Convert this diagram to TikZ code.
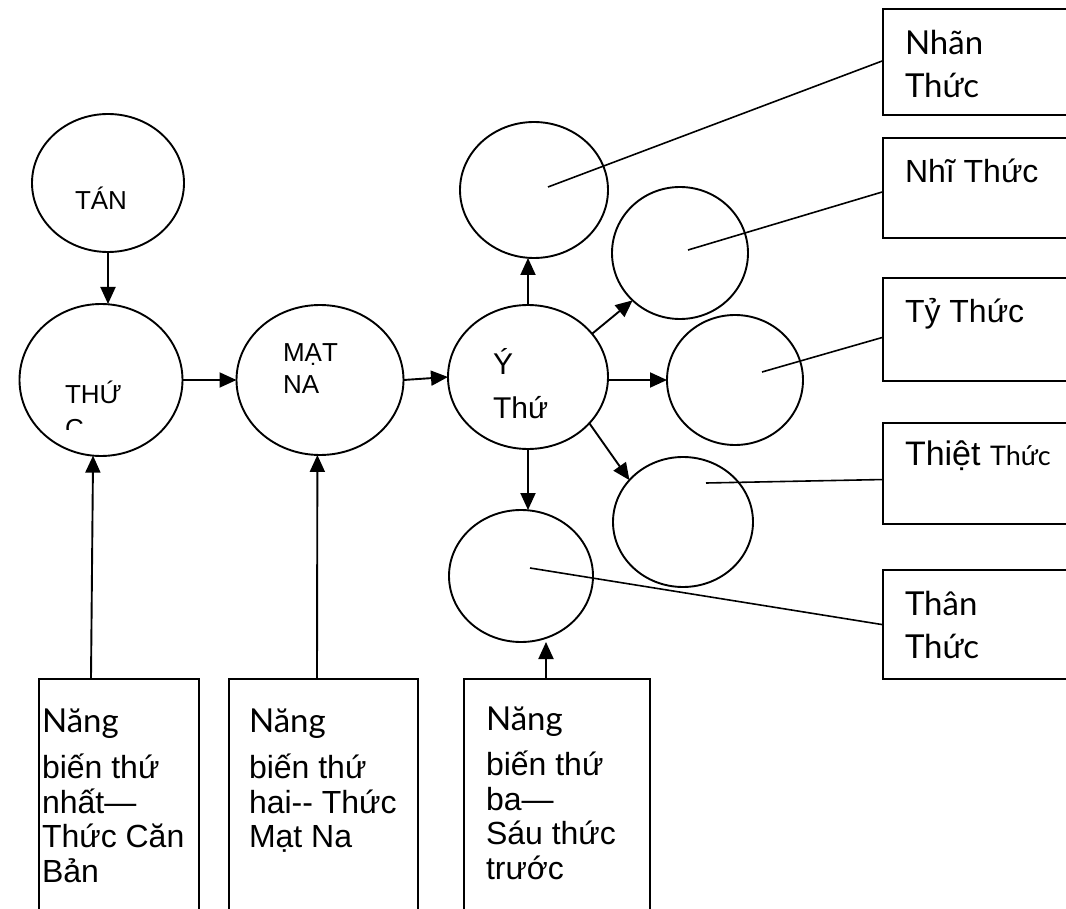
\documentclass[tikz,border=0pt]{standalone}
\usepackage{fontspec}
\setmainfont{Liberation Sans}
\newfontfamily\latofont{Lato}
\usetikzlibrary{shapes.geometric,arrows.meta}
\newcommand\pxsize[1]{\fontsize{#1}{#1}\selectfont}

\begin{document}
\begin{tikzpicture}[x=1pt,y=-1pt,
  oval/.style={draw, ellipse, line width=1.9pt, inner sep=0pt, outer sep=0pt},
  boxshape/.style={draw, line width=2.1pt, anchor=north west, inner sep=0pt},
  arr/.style={line width=1.9pt, -{Triangle[length=17pt,width=15pt]}},
  link/.style={line width=1.6pt},
  lbl/.style={anchor=base west, inner sep=0pt, outer sep=0pt},
  small/.style={font=\pxsize{26}},
  mid/.style={font=\pxsize{30}},
  big/.style={font=\pxsize{32}},
  soft/.style={font=\latofont\pxsize{33}},
]
\useasboundingbox (0,0) rectangle (1066,909);
\clip (0,0) rectangle (1066,909);

% ---- ovals of the main chain ----
\node[oval, minimum width=152pt, minimum height=138pt] (tan) at (108,183) {};
\node[oval, minimum width=163pt, minimum height=152pt] (thu) at (101,380) {};
\node[oval, minimum width=167pt, minimum height=150pt] (mat) at (320,380) {};
\node[oval, minimum width=160pt, minimum height=144pt] (y)   at (528,377) {};

% ---- the six consciousnesses ----
\node[oval, minimum width=148pt, minimum height=136pt] (c1) at (534,190) {};
\node[oval, minimum width=136pt, minimum height=132pt] (c2) at (680,253) {};
\node[oval, minimum width=136pt, minimum height=130pt] (c3) at (735,380) {};
\node[oval, minimum width=140pt, minimum height=130pt] (c4) at (683,522) {};
\node[oval, minimum width=144pt, minimum height=132pt] (c5) at (521,576) {};

% ---- labels inside the ovals ----
\node[lbl, small] (tantxt) at (75,210) {TÁN};
\node[lbl, small] (thutxt) at (65,403) {THỨ};
\begin{scope}
  \clip (55,412) rectangle (140,429);
  \node[lbl, small] (thutxtb) at (65,437) {C};
\end{scope}
\node[lbl, small] (mattxta) at (283,362) {MẠT};
\node[lbl, small] (mattxtb) at (283,393) {NA};
\node[lbl, mid] (ytxta) at (493,374) {Ý};
\begin{scope}
  \clip (480,385) rectangle (549,430);
  \node[lbl, mid] (ytxtb) at (493,418) {Thứ};
\end{scope}

% ---- boxes on the right ----
\node[boxshape, minimum width=200pt, minimum height=106pt] (bx1) at (882,8) {};
\node[boxshape, minimum width=200pt, minimum height=100pt] (bx2) at (882,137) {};
\node[boxshape, minimum width=200pt, minimum height=103pt] (bx3) at (882,277) {};
\node[boxshape, minimum width=200pt, minimum height=101pt] (bx4) at (882,422) {};
\node[boxshape, minimum width=200pt, minimum height=109pt] (bx5) at (882,569) {};

\node[lbl, soft] (bx1a) at (905,55) {Nhãn};
\node[lbl, soft] (bx1b) at (905,98) {Thức};
\node[lbl, big] (bx2a) at (905,183) {Nhĩ Thức};
\node[lbl, big] (bx3a) at (905,323) {Tỷ Thức};
\node[lbl, font=\pxsize{34}] (bx4a) at (905,465) {Thiệt {\latofont\pxsize{27}Thức}};
\node[lbl, soft] (bx5a) at (905,615) {Thân};
\node[lbl, soft] (bx5b) at (905,658) {Thức};

% ---- boxes at the bottom ----
\node[boxshape, minimum width=160pt, minimum height=260pt] (bb1) at (38,678) {};
\node[boxshape, minimum width=189pt, minimum height=260pt] (bb2) at (228,678) {};
\node[boxshape, minimum width=186pt, minimum height=260pt] (bb3) at (463,678) {};

\node[lbl, soft] (bb1a) at (42,732) {Năng};
\node[lbl, big] (bb1b) at (42,778) {biến thứ};
\node[lbl, big] (bb1c) at (42,813) {nhất—};
\node[lbl, big] (bb1d) at (42,847) {Thức Căn};
\node[lbl, big] (bb1e) at (42,882) {Bản};

\node[lbl, soft] (bb2a) at (249,732) {Năng};
\node[lbl, big] (bb2b) at (249,778) {biến thứ};
\node[lbl, big] (bb2c) at (249,813) {hai-{}- Thức};
\node[lbl, big] (bb2d) at (249,847) {Mạt Na};

\node[lbl, soft] (bb3a) at (486,730) {Năng};
\node[lbl, big] (bb3b) at (486,775) {biến thứ};
\node[lbl, big] (bb3c) at (486,810) {ba—};
\node[lbl, big] (bb3d) at (486,844) {Sáu thức};
\node[lbl, big] (bb3e) at (486,879) {trước};

% ---- arrows ----
\draw[arr] (tan.south) -- (tan.south |- thu.north);
\draw[arr] (thu.east) -- (mat.west);
\draw[arr] (mat.east) -- (y.west);
\draw[arr] (y.north) -- (y.north |- c1.south);
\draw[arr] (y.34) -- (c2.225);
\draw[arr] (y.east |- 0,380) -- (c3.west);
\draw[arr] (y.-37) -- (c4.142);
\draw[arr] (y.south) -- (y.south |- c5.north);

\coordinate (bb1t) at (91,678);
\coordinate (bb2t) at (317,678);
\coordinate (bb3t) at (546,678);
\draw[arr] (bb1t) -- (thu.264);
\draw[arr] (bb2t) -- (mat.268);
\draw[arr] (bb3t) -- (bb3t |- c5.south);

% ---- plain lines from the ovals to their boxes ----
\coordinate (s1) at (548,187);
\coordinate (s2) at (688,250);
\coordinate (s3) at (762,372);
\coordinate (s4) at (706,483);
\coordinate (s5) at (530,568);
\draw[link] (s1) -- ([yshift=1pt]bx1.west);
\draw[link] (s2) -- ([yshift=-4pt]bx2.west);
\draw[link] (s3) -- ([yshift=-8pt]bx3.west);
\draw[link] (s4) -- ([yshift=-6pt]bx4.west);
\draw[link] (s5) -- (bx5.west);
\end{tikzpicture}
\end{document}
